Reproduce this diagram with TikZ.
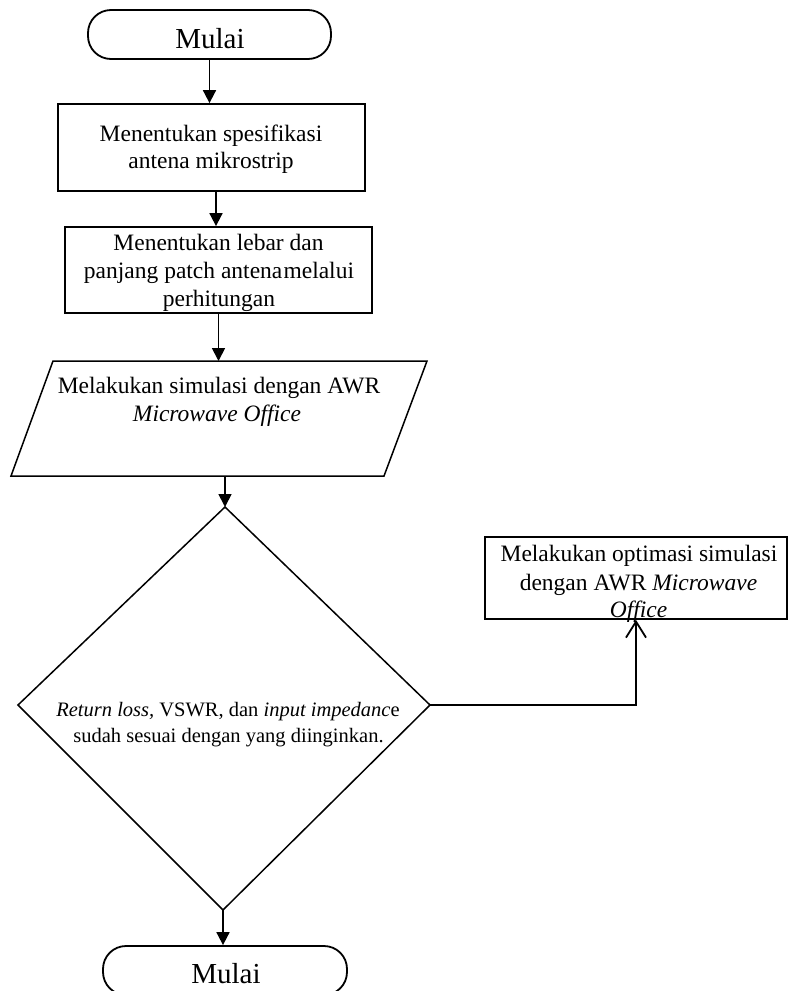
\documentclass[tikz,border=0pt]{standalone}
\usepackage{fontspec}
\setmainfont{Liberation Serif}
\usetikzlibrary{arrows.meta}
\begin{document}
\begin{tikzpicture}[x=1pt,y=-1pt,line width=1.8pt,
  box/.style={draw,rectangle,inner sep=0pt},
  term/.style={draw,rectangle,rounded corners=23pt,inner sep=0pt},
  arr/.style={-{Triangle[length=13pt,width=13pt]}},
  openarr/.style={-{Straight Barb[length=16pt,width=20pt]}},
  txt/.style={anchor=base,inner sep=0pt,font=\fontsize{23.5}{28}\selectfont},
  dtxt/.style={anchor=base,inner sep=0pt,font=\fontsize{20.5}{25}\selectfont},
  ttxt/.style={anchor=base,inner sep=0pt,font=\fontsize{29}{34}\selectfont}]
\useasboundingbox (0,0) rectangle (788,991);
\clip (0,0) rectangle (788,991);
% start terminal
\node[term,minimum width=243pt,minimum height=49pt] (t1) at (209.5,34.5) {};
\node[ttxt] (t1a) at (210,48) {Mulai};
% box 1
\node[box,minimum width=307pt,minimum height=87pt] (b1) at (211.5,147.5) {};
\node[txt] (b1a) at (211,141) {Menentukan spesifikasi};
\node[txt] (b1b) at (211,168) {antena mikrostrip};
% box 2
\node[box,minimum width=307pt,minimum height=86pt] (b2) at (218.5,270) {};
\node[txt] (b2a) at (218.5,250) {Menentukan lebar dan};
\node[txt] (b2b) at (219,278) {panjang patch antena\hspace{0.05em}melalui};
\node[txt] (b2c) at (219,306) {perhitungan};
% parallelogram
\coordinate (p1) at (53,361);
\coordinate (p2) at (427,361);
\coordinate (p3) at (384,476);
\coordinate (p4) at (11,476);
\coordinate (pb) at (225,476);
\draw[line width=1.5pt] (p1) -- (p2) -- (p3) -- (p4) -- cycle;
\node[txt] (pa) at (219,393) {Melakukan simulasi dengan AWR};
\node[txt] (pbt) at (217,421) {\itshape Microwave Office};
% diamond
\coordinate (dt) at (225,507);
\coordinate (dl) at (18,705);
\coordinate (dr) at (430,705);
\coordinate (db) at (223,910);
\draw[line width=1.5pt] (dt) -- (dr) -- (db) -- (dl) -- cycle;
\node[dtxt] (da) at (228,716) {\textit{Return loss,} VSWR, dan \textit{input impedanc}e};
\node[dtxt] (dbt) at (228.5,742) {sudah sesuai dengan yang diinginkan.};
% right box
\node[box,minimum width=302pt,minimum height=82pt] (rb) at (636,578) {};
\node[txt] (rba) at (639,561) {Melakukan optimasi simulasi};
\node[txt] (rbb) at (638.5,590) {dengan AWR \textit{Microwave}};
\node[txt] (rbc) at (638.5,617) {\textit{Office}};
% end terminal
\node[term,minimum width=244pt,minimum height=49pt] (t2) at (225,970.5) {};
\node[ttxt] (t2a) at (226,983) {Mulai};
% connectors
\draw[arr] (t1.south) -- (t1.south |- b1.north);
\draw[arr] ([xshift=4.5pt]b1.south) -- ([xshift=4.5pt]b1.south |- b2.north);
\draw[arr] (b2.south) -- (b2.south |- p1);
\draw[arr] (pb) -- (dt);
\draw[arr] (db) -- (db |- t2.north);
\draw[openarr] (dr) -| (rb.south);
\end{tikzpicture}
\end{document}
